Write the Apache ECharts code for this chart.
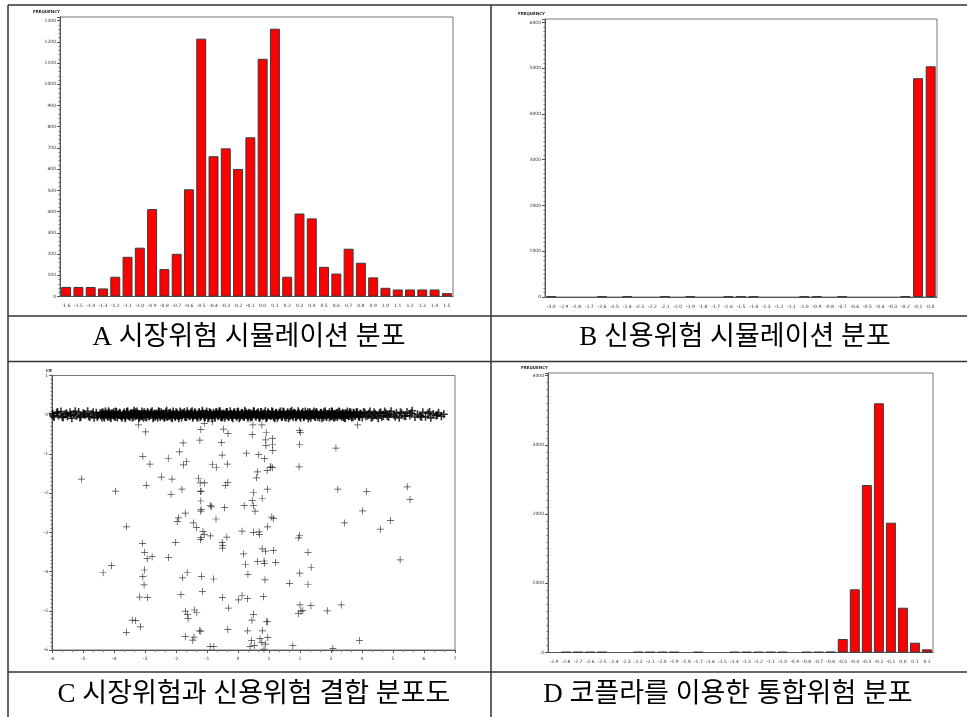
<!DOCTYPE html>
<html><head><meta charset="utf-8">
<script src="https://cdn.jsdelivr.net/npm/echarts@6/dist/echarts.min.js"></script>
<style>html,body{margin:0;padding:0;background:#fff}#c{width:967px;height:717px}</style>
</head><body><div id="c"></div>
<script>
// ---- Panel A: market-risk simulation distribution
const catsA = ['-1.6','-1.5','-1.4','-1.3','-1.2','-1.1','-1.0','-0.9','-0.8','-0.7','-0.6','-0.5','-0.4','-0.3','-0.2','-0.1','0.0','0.1','0.2','0.3','0.4','0.5','0.6','0.7','0.8','0.9','1.0','1.1','1.2','1.3','1.4','1.5'];
const valsA = [45,45,45,38,93,187,230,412,129,201,505,1215,661,698,601,750,1120,1262,93,391,368,140,108,225,159,90,41,33,33,33,33,16];
// ---- Panel B: credit-risk simulation distribution
const catsB = ['-3.0','-2.9','-2.8','-2.7','-2.6','-2.5','-2.4','-2.3','-2.2','-2.1','-2.0','-1.9','-1.8','-1.7','-1.6','-1.5','-1.4','-1.3','-1.2','-1.1','-1.0','-0.9','-0.8','-0.7','-0.6','-0.5','-0.4','-0.3','-0.2','-0.1','0.0'];
const valsB = [15,0,0,0,12,0,14,0,0,12,0,15,0,0,14,16,14,0,0,0,12,15,0,14,0,0,0,0,15,4780,5040];
// ---- Panel D: integrated risk distribution (copula)
const catsD = ['-2.9','-2.8','-2.7','-2.6','-2.5','-2.4','-2.3','-2.2','-2.1','-2.0','-1.9','-1.8','-1.7','-1.6','-1.5','-1.4','-1.3','-1.2','-1.1','-1.0','-0.9','-0.8','-0.7','-0.6','-0.5','-0.4','-0.3','-0.2','-0.1','0.0','0.1','0.2'];
const valsD = [0,8,8,8,8,0,0,8,8,8,8,0,8,0,0,8,8,8,8,8,0,8,8,12,195,913,2420,3601,1876,647,142,46];
// ---- Panel C: joint scatter (market risk x, credit risk y)
const ticksCx = [-6,-5,-4,-3,-2,-1,0,1,2,3,4,5,6,7];
const ticksCy = [-6,-5,-4,-3,-2,-1,0,1];
const bandPts = [
[-5.98,0.03],[-5.93,-0.06],[-5.85,0.05],[-5.79,-0.02],[-5.71,0.08],[-5.64,-0.07],[-5.57,0.01],[-5.50,-0.04],[-5.42,0.06],[-5.36,-0.09],[-5.29,0.02],[-5.21,-0.03],[-5.14,0.07],[-5.07,-0.05],[-4.99,0.04],[-4.93,-0.01],[-4.85,0.09],[-4.78,-0.06],[-4.71,0.02],[-4.64,-0.08],[-4.57,0.05],[-4.51,-0.02],
[-4.45,0.04],[-4.39,-0.07],[-4.34,0.01],[-4.28,0.08],[-4.21,-0.03],[-4.16,0.05],[-4.10,-0.09],[-4.03,0.02],[-3.98,-0.05],[-3.92,0.07],[-3.85,-0.01],[-3.80,0.03],[-3.74,-0.08],[-3.67,0.06],[-3.62,-0.02],[-3.56,0.09],[-3.49,-0.06],[-3.44,0.00],[-3.38,0.05],[-3.31,-0.04],[-3.26,0.08],[-3.20,-0.09],[-3.13,0.02],[-3.08,-0.03],[-3.02,0.06],[-2.95,-0.07],[-2.90,0.04],[-2.84,-0.01],[-2.77,0.09],[-2.72,-0.05],[-2.66,0.01],[-2.59,-0.08],[-2.54,0.07],[-2.48,-0.02],[-2.41,0.03],[-2.36,-0.06],[-2.30,0.10],[-2.23,-0.04],[-2.18,0.05],[-2.12,-0.09],[-2.05,0.00],[-2.00,0.06],[-1.94,-0.03],[-1.87,0.08],[-1.82,-0.07],[-1.76,0.02],[-1.69,-0.05],[-1.64,0.09],[-1.58,-0.01],[-1.51,0.04],[-1.46,-0.08],[-1.40,0.06],[-1.33,-0.03],[-1.28,0.01],[-1.22,-0.06],[-1.15,0.10],[-1.10,-0.04],[-1.04,0.03],[-0.97,-0.09],[-0.92,0.07],[-0.86,-0.02],[-0.79,0.05],[-0.74,-0.07],[-0.68,0.02],[-0.61,0.08],[-0.56,-0.05],[-0.50,0.00],[-0.43,-0.08],[-0.38,0.06],[-0.32,-0.03],[-0.25,0.09],[-0.20,-0.06],[-0.14,0.03],[-0.07,-0.01],[-0.02,0.07],[0.04,-0.09],[0.11,0.04],[0.16,-0.04],[0.22,0.10],[0.29,-0.02],[0.34,0.05],[0.40,-0.07],[0.47,0.01],[0.52,0.08],[0.58,-0.05],[0.65,0.03],[0.70,-0.08],[0.76,0.06],[0.83,-0.02],[0.88,0.09],[0.94,-0.06],[1.01,0.02],[1.06,-0.03],[1.12,0.07],[1.19,-0.09],[1.24,0.04],[1.30,-0.01],[1.37,0.08],[1.42,-0.05],[1.48,0.01],[1.55,-0.07],[1.60,0.06],[1.66,-0.03],[1.73,0.10],[1.78,-0.06],[1.84,0.03],[1.91,-0.02],[1.96,0.05],[2.02,-0.08],[2.09,0.07],[2.14,-0.04],[2.20,0.02],[2.27,-0.09],[2.32,0.06],[2.38,-0.01],[2.45,0.08],[2.50,-0.05],[2.56,0.03],[2.63,-0.07],[2.68,0.05],[2.74,-0.02],[2.81,0.09],[2.86,-0.06],[2.92,0.01],[2.99,-0.04],[3.04,0.07],[3.10,-0.08],[3.17,0.04],[3.22,-0.02],[3.28,0.06],[3.35,-0.05],[3.40,0.02],[3.46,-0.09],[3.53,0.08],[3.58,-0.03],[3.64,0.05],[3.71,-0.06],[3.76,0.01],[3.82,0.07],[3.89,-0.04],[3.94,0.03],
[4.01,-0.07],[4.09,0.05],[4.18,-0.02],[4.26,0.08],[4.35,-0.05],[4.43,0.02],[4.52,-0.09],[4.60,0.06],[4.69,-0.03],[4.77,0.04],[4.86,-0.06],[4.94,0.09],[5.03,-0.01],[5.11,0.05],[5.20,-0.08],[5.28,0.03],[5.37,-0.04],[5.45,0.07],[5.54,-0.02],[5.62,0.10],[5.71,-0.06],[5.79,0.01],[5.88,-0.03],[5.96,0.06],[6.05,-0.05],[6.13,0.04],[6.22,-0.08],[6.30,0.02],[6.39,-0.02],[6.47,0.05],[6.56,-0.04],[6.64,0.01]
];
const bandPts2 = [
[-5.96,-0.03],[-5.82,0.07],[-5.67,-0.05],[-5.53,0.04],[-5.39,-0.01],[-5.25,0.09],[-5.10,-0.07],[-4.96,0.02],[-4.82,-0.04],[-4.67,0.06],[-4.54,-0.06],
[-4.42,-0.02],[-4.36,0.06],[-4.31,-0.08],[-4.25,0.03],[-4.18,0.09],[-4.13,-0.05],[-4.07,0.04],[-4.00,-0.02],[-3.95,0.08],[-3.89,-0.07],[-3.82,0.05],[-3.77,-0.04],[-3.71,0.01],[-3.64,-0.09],[-3.59,0.07],[-3.53,-0.03],[-3.46,0.04],[-3.41,-0.07],[-3.35,0.10],[-3.28,-0.01],[-3.23,0.03],[-3.17,-0.06],[-3.10,0.08],[-3.05,-0.08],[-2.99,0.02],[-2.92,0.07],[-2.87,-0.04],[-2.81,0.05],[-2.74,-0.09],[-2.69,0.03],[-2.63,-0.02],[-2.56,0.09],[-2.51,-0.06],[-2.45,0.01],[-2.38,-0.08],[-2.33,0.06],[-2.27,-0.03],[-2.20,0.04],[-2.15,-0.07],[-2.09,0.08],[-2.02,-0.05],[-1.97,0.02],[-1.91,-0.09],[-1.84,0.05],[-1.79,-0.01],[-1.73,0.07],[-1.66,-0.06],[-1.61,0.03],[-1.55,-0.04],[-1.48,0.09],[-1.43,-0.02],[-1.37,0.05],[-1.30,-0.08],[-1.25,0.07],[-1.19,-0.03],[-1.12,0.02],[-1.07,-0.07],[-1.01,0.08],[-0.94,-0.05],[-0.89,0.04],[-0.83,-0.09],[-0.76,0.01],[-0.71,0.06],[-0.65,-0.04],[-0.58,0.09],[-0.53,-0.07],[-0.47,0.03],[-0.40,-0.02],[-0.35,0.07],[-0.29,-0.06],[-0.22,0.02],[-0.17,-0.09],[-0.11,0.05],[-0.04,-0.04],[0.01,0.08],[0.07,-0.06],[0.14,0.01],[0.19,-0.03],[0.25,0.06],[0.32,-0.08],[0.37,0.03],[0.43,-0.05],[0.50,0.09],[0.55,-0.02],[0.61,0.04],[0.68,-0.07],[0.73,0.07],[0.79,-0.04],[0.86,0.02],[0.91,-0.09],[0.97,0.06],[1.04,-0.01],[1.09,0.09],[1.15,-0.06],[1.22,0.03],[1.27,-0.08],[1.33,0.05],[1.40,-0.03],[1.45,0.08],[1.51,-0.05],[1.58,0.02],[1.63,-0.09],[1.69,0.07],[1.76,-0.02],[1.81,0.04],[1.87,-0.07],[1.94,0.09],[1.99,-0.04],[2.05,0.01],[2.12,-0.06],[2.17,0.08],[2.23,-0.03],[2.30,0.05],[2.35,-0.08],[2.41,0.03],[2.48,-0.05],[2.53,0.07],[2.59,-0.01],[2.66,0.04],[2.71,-0.09],[2.77,0.06],[2.84,-0.03],[2.89,0.02],[2.95,-0.07],[3.02,0.09],[3.07,-0.05],[3.13,0.01],[3.20,-0.06],[3.25,0.08],[3.31,-0.02],[3.38,0.05],[3.43,-0.08],[3.49,0.03],[3.56,-0.04],[3.61,0.07],[3.67,-0.07],[3.74,0.04],[3.79,-0.01],[3.85,0.06],[3.92,-0.05],[3.97,0.02],
[4.05,0.07],[4.13,-0.04],[4.22,0.03],[4.30,-0.08],[4.39,0.06],[4.47,-0.02],[4.56,0.04],[4.64,-0.06],[4.73,0.08],[4.81,-0.03],[4.90,0.02],[5.07,-0.05],[5.24,0.06],[5.41,-0.03],[5.58,0.04],[5.92,-0.06],[6.18,0.07],[6.43,-0.01]
];
const bandPts3 = [
[-4.40,0.05],[-4.33,-0.04],[-4.27,0.01],[-4.20,-0.06],[-4.14,0.03],[-4.08,-0.02],[-4.01,0.06],[-3.95,-0.05],[-3.88,0.00],[-3.82,0.04],[-3.76,-0.03],[-3.69,0.02],[-3.63,-0.06],[-3.57,0.05],[-3.50,-0.01],[-3.44,0.03],[-3.37,-0.05],[-3.31,0.06],[-3.25,-0.02],[-3.18,0.01],[-3.12,-0.04],[-3.05,0.04],[-2.99,-0.06],[-2.93,0.02],[-2.86,-0.03],[-2.80,0.05],[-2.73,0.00],[-2.67,-0.05],[-2.61,0.03],[-2.54,-0.01],[-2.48,0.06],[-2.42,-0.04],[-2.35,0.01],[-2.29,-0.06],[-2.22,0.04],[-2.16,-0.02],[-2.10,0.02],[-2.03,-0.05],[-1.97,0.05],[-1.90,-0.03],[-1.84,0.00],[-1.78,0.04],[-1.71,-0.06],[-1.65,0.02],[-1.59,-0.02],[-1.52,0.06],[-1.46,-0.04],[-1.39,0.01],[-1.33,-0.05],[-1.27,0.03],[-1.20,-0.01],[-1.14,0.05],[-1.07,-0.06],[-1.01,0.02],[-0.95,-0.03],[-0.88,0.04],[-0.82,0.00],[-0.76,-0.05],[-0.69,0.06],[-0.63,-0.02],[-0.56,0.03],[-0.50,-0.06],[-0.44,0.01],[-0.37,0.05],[-0.31,-0.04],[-0.24,0.02],[-0.18,-0.02],[-0.12,0.06],[-0.05,-0.05],[0.01,0.03],[0.08,-0.01],[0.14,0.05],[0.20,-0.06],[0.27,0.01],[0.33,-0.03],[0.40,0.04],[0.46,-0.05],[0.52,0.02],[0.59,-0.01],[0.65,0.06],[0.71,-0.04],[0.78,0.00],[0.84,0.03],[0.91,-0.06],[0.97,0.04],[1.03,-0.02],[1.10,0.01],[1.16,-0.05],[1.23,0.05],[1.29,-0.03],[1.35,0.02],[1.42,-0.06],[1.48,0.06],[1.54,-0.01],[1.61,0.03],[1.67,-0.04],[1.74,0.00],[1.80,0.05],[1.86,-0.05],[1.93,0.02],[1.99,-0.02],[2.06,0.04],[2.12,-0.06],[2.18,0.01],[2.25,0.06],[2.31,-0.04],[2.37,0.02],[2.44,-0.02],[2.50,0.05],[2.57,-0.05],[2.63,0.00],[2.69,0.03],[2.76,-0.06],[2.82,0.04],[2.89,-0.01],[2.95,0.06],[3.01,-0.03],[3.08,0.02],[3.14,-0.05],[3.20,0.05],[3.27,-0.02],[3.33,0.01],[3.40,-0.06],[3.46,0.04],[3.52,-0.01],[3.59,0.03],[3.65,-0.04],[3.72,0.05],[3.78,-0.03],[3.84,0.01],[3.91,-0.05]
];
const outPts = [
[-3.21,-0.26],[-1.09,-0.22],[-0.83,-0.18],[0.48,-0.26],[0.77,-0.26],[3.86,-0.26],[-2.98,-0.44],[-1.20,-0.38],[-0.47,-0.37],[-0.32,-0.48],[0.46,-0.51],[0.91,-0.46],[1.98,-0.40],[2.01,-0.45],
[-1.23,-0.65],[1.11,-0.61],[0.89,-0.64],[-1.77,-0.72],[-0.53,-0.71],[0.90,-0.78],[1.11,-0.76],[1.99,-0.76],[3.16,-0.85],[-1.89,-0.95],[1.12,-0.91],[0.27,-0.98],
[-3.07,-1.06],[-0.51,-1.03],[0.67,-1.02],[-2.25,-1.11],[0.85,-1.12],[-1.66,-1.20],[-1.76,-1.28],[-2.84,-1.26],[-0.83,-1.27],[-0.70,-1.34],[-0.34,-1.26],[1.06,-1.32],[1.11,-1.35],[1.04,-1.34],[1.97,-1.33],[0.94,-1.42],[0.63,-1.46],[0.60,-1.61],
[-5.05,-1.64],[-2.47,-1.59],[-2.13,-1.64],[-1.27,-1.62],[-1.22,-1.74],[-1.08,-1.74],[-0.33,-1.73],[-0.41,-1.80],[-2.96,-1.80],[0.95,-1.90],[3.22,-1.90],[5.46,-1.84],[-3.95,-1.95],[-1.81,-1.90],[-1.21,-1.95],[-1.19,-1.96],[0.50,-1.99],[4.15,-1.96],[-2.16,-2.03],
[0.78,-2.13],[5.55,-2.16],[0.46,-2.19],[-1.20,-2.20],[-0.89,-2.32],[-0.85,-2.35],[0.20,-2.32],[0.50,-2.32],[-0.44,-2.37],[-1.19,-2.42],[-1.20,-2.46],[0.55,-2.46],[-1.70,-2.51],[4.02,-2.45],
[1.09,-2.61],[1.14,-2.65],[-1.92,-2.63],[-0.71,-2.66],[-1.96,-2.72],[3.43,-2.76],[4.92,-2.70],[-1.44,-2.76],[-1.34,-2.88],[-3.60,-2.86],[0.95,-2.86],[4.59,-2.92],
[-1.13,-2.98],[-1.09,-3.05],[0.13,-2.97],[0.50,-3.00],[0.68,-2.99],[0.69,-3.05],[-0.89,-3.09],[-0.36,-3.12],[-1.19,-3.13],[-1.21,-3.18],[1.99,-3.08],[1.95,-3.14],
[-2.01,-3.26],[-3.08,-3.28],[-0.51,-3.26],[-0.49,-3.33],[-0.50,-3.40],[0.78,-3.42],[0.89,-3.48],[1.14,-3.46],[-3.01,-3.51],[0.18,-3.55],[2.26,-3.51],[-2.77,-3.62],[-2.24,-3.64],[-2.93,-3.67],
[5.23,-3.70],[0.63,-3.74],[0.84,-3.73],[0.85,-3.79],[1.21,-3.77],[0.24,-3.82],[-4.08,-3.85],[2.36,-3.89],[-3.02,-3.96],[-4.35,-4.03],[-1.64,-4.03],[1.99,-4.04],
[-3.07,-4.13],[-1.79,-4.16],[-1.18,-4.12],[0.32,-4.07],[-0.79,-4.19],[0.87,-4.21],[-3.03,-4.34],[1.66,-4.30],[2.26,-4.33],[-1.15,-4.51],
[-3.17,-4.65],[-2.92,-4.66],[-1.84,-4.59],[-0.50,-4.66],[0.13,-4.61],[0.02,-4.72],[0.31,-4.69],[0.82,-4.64],[-0.31,-4.93],[2.00,-4.85],[2.35,-4.87],[3.33,-4.85],
[-1.70,-5.01],[-1.63,-5.09],[-1.33,-5.05],[-1.41,-4.98],[-1.61,-5.20],[0.50,-5.09],[1.95,-5.07],[2.03,-5.01],[2.09,-4.99],[2.88,-5.00],
[-3.41,-5.24],[-3.30,-5.25],[0.45,-5.24],[0.92,-5.28],[0.95,-5.28],[-3.15,-5.41],[-3.60,-5.55],[-1.24,-5.51],[-1.20,-5.52],[-0.33,-5.48],[0.31,-5.51],[0.79,-5.51],
[-1.70,-5.66],[-1.42,-5.67],[-1.46,-5.75],[0.44,-5.76],[0.71,-5.71],[0.96,-5.68],[0.77,-5.81],[0.89,-5.85],[3.92,-5.76],
[-0.90,-5.91],[-0.78,-5.91],[0.39,-5.91],[0.53,-5.88],[1.77,-5.89],[0.84,-5.98],[3.06,-5.96]
];
const captions = ['A 시장위험 시뮬레이션 분포','B 신용위험 시뮬레이션 분포','C 시장위험과 신용위험 결합 분포도','D 코플라를 이용한 통합위험 분포'];

const plusSym = 'path://M4.5,0 H5.5 V4.5 H10 V5.5 H5.5 V10 H4.5 V5.5 H0 V4.5 H4.5 Z';
const plusBold = 'path://M4,0 H6 V4 H10 V6 H6 V10 H4 V6 H0 V4 H4 Z';
const axCol = '#555';
const lblStyle = {fontSize: 4.5, color: '#333', fontFamily: 'DejaVu Sans'};
function gridDef(l, t, w, h) {
  return {left: l, top: t, width: w, height: h, show: true, borderColor: '#777', borderWidth: 1,
          containLabel: false, outerBoundsMode: 'none'};
}
function catAxis(gi, cats) {
  return {type: 'category', gridIndex: gi, data: cats, boundaryGap: true,
    axisLine: {onZero: false, lineStyle: {color: axCol}}, axisTick: {show: false},
    axisLabel: Object.assign({interval: 0, margin: 7}, lblStyle), splitLine: {show: false}};
}
const nameStyle = {fontSize: 4, color: '#222', align: 'right', fontWeight: 'bold', fontFamily: 'DejaVu Sans'};
function valAxis(gi, max, step, minorN, name) {
  return {type: 'value', gridIndex: gi, min: 0, max: max, interval: step,
    name: name, nameLocation: 'end', nameGap: 3, nameTextStyle: nameStyle,
    axisLine: {show: true, onZero: false, lineStyle: {color: axCol}},
    axisTick: {show: true, length: 3, lineStyle: {color: axCol}},
    minorTick: {show: true, splitNumber: minorN, length: 1.5, lineStyle: {color: '#777'}},
    axisLabel: Object.assign({margin: 4, formatter: v => (v % step === 0 ? String(v) : '')}, lblStyle),
    splitLine: {show: false}};
}
const barStyle = {color: '#ff0000', borderColor: '#3a3a3a', borderWidth: 1};
const toBar = arr => arr.map(v => (v === 0 ? '-' : v));

const tableLines = [
  [8, 5, 967, 5], [8, 5, 8, 717], [491, 5, 491, 717],
  [8, 316, 967, 316], [8, 361.5, 967, 361.5], [8, 672, 967, 672]
];
const capPos = [[249, 338], [735, 338], [254, 695], [728, 695]];
const graphics = tableLines.map(p => ({type: 'line', silent: true,
  shape: {x1: p[0], y1: p[1], x2: p[2], y2: p[3]}, style: {stroke: '#333', lineWidth: 1.5}}));
captions.forEach((t, i) => graphics.push({type: 'text', silent: true, x: capPos[i][0], y: capPos[i][1],
  style: {text: t, fill: '#000', fontSize: 27, fontFamily: '"Liberation Serif", "Noto Sans CJK KR"',
          align: 'center', verticalAlign: 'middle'}}));

const bandSeries = [bandPts, bandPts2, bandPts3].map(d => ({type: 'scatter', xAxisIndex: 2, yAxisIndex: 2,
  data: d, symbol: plusBold, symbolSize: 8, itemStyle: {color: '#000'}}));

const chart = echarts.init(document.getElementById('c'), null, {renderer: 'canvas'});
chart.setOption({
  animation: false,
  backgroundColor: '#fff',
  grid: [gridDef(60, 17, 393, 279.5), gridDef(545, 19, 392, 278), gridDef(52, 375.5, 403, 274.5), gridDef(548, 373, 385, 279.5)],
  xAxis: [
    catAxis(0, catsA), catAxis(1, catsB),
    {type: 'value', gridIndex: 2, min: ticksCx[0], max: ticksCx[ticksCx.length - 1], interval: 1,
     axisLine: {onZero: false, lineStyle: {color: axCol}}, axisTick: {length: 3, lineStyle: {color: axCol}},
     minorTick: {show: true, splitNumber: 3, length: 2, lineStyle: {color: '#777'}},
     axisLabel: Object.assign({margin: 6}, lblStyle), splitLine: {show: false}},
    catAxis(3, catsD)
  ],
  yAxis: [
    valAxis(0, 1317, 100, 5, 'FREQUENCY'),
    valAxis(1, 6073, 1000, 10, 'FREQUENCY'),
    {type: 'value', gridIndex: 2, min: ticksCy[0], max: ticksCy[ticksCy.length - 1], interval: 1,
     name: 'CR', nameLocation: 'end', nameGap: 3, nameTextStyle: nameStyle,
     axisLine: {show: true, onZero: false, lineStyle: {color: axCol}}, axisTick: {length: 3, lineStyle: {color: axCol}},
     minorTick: {show: true, splitNumber: 10, length: 1.5, lineStyle: {color: '#777'}},
     axisLabel: Object.assign({margin: 4}, lblStyle), splitLine: {show: false}},
    valAxis(3, 4039, 1000, 10, 'FREQUENCY')
  ],
  series: [
    {type: 'bar', xAxisIndex: 0, yAxisIndex: 0, data: toBar(valsA), barCategoryGap: '19%', itemStyle: barStyle},
    {type: 'bar', xAxisIndex: 1, yAxisIndex: 1, data: toBar(valsB), barCategoryGap: '21%', itemStyle: barStyle}
  ].concat(bandSeries).concat([
    {type: 'scatter', xAxisIndex: 2, yAxisIndex: 2, data: outPts, symbol: plusSym, symbolSize: 7, itemStyle: {color: '#111'}},
    {type: 'bar', xAxisIndex: 3, yAxisIndex: 3, data: toBar(valsD), barCategoryGap: '17%', itemStyle: barStyle}
  ]),
  graphic: graphics
});
</script></body></html>
